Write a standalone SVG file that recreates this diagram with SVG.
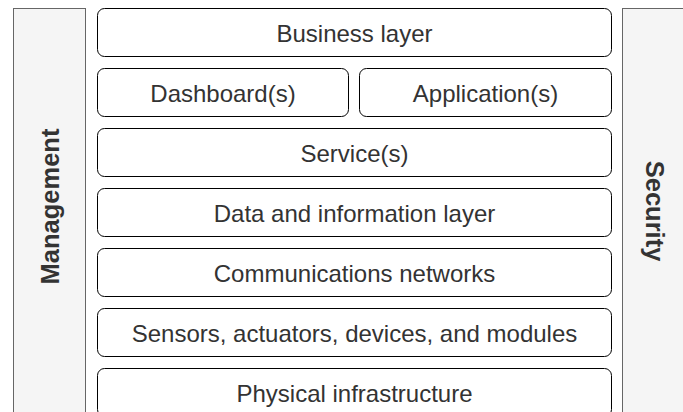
<svg xmlns="http://www.w3.org/2000/svg" width="683" height="412" viewBox="0 0 683 412">
<style>
.panel{fill:#f5f5f5;stroke:#666666;stroke-width:1}
.box{fill:#ffffff;stroke:#000000;stroke-width:1}
.t{font-family:"Liberation Sans",Arial,sans-serif;font-size:24px;fill:#333333;text-anchor:middle;dominant-baseline:central}
.v{font-family:"Liberation Sans",Arial,sans-serif;font-size:25.5px;font-weight:bold;fill:#333333;text-anchor:middle;dominant-baseline:central}
</style>
<rect width="683" height="412" fill="#ffffff"/>
<g id="management">
<rect class="panel" x="13.5" y="8.5" width="72" height="420"/>
<text class="v" transform="translate(49.5,206.5) rotate(-90)">Management</text>
</g>
<g id="security">
<rect class="panel" x="622.5" y="8.5" width="72" height="420"/>
<text class="v" transform="translate(655,211) rotate(90)">Security</text>
</g>
<g id="business">
<rect class="box" x="97.5" y="8.5" width="514" height="48" rx="7"/>
<text class="t" x="354.5" y="33">Business layer</text>
</g>
<g id="dashboards">
<rect class="box" x="97.5" y="68.5" width="251" height="48" rx="7"/>
<text class="t" x="223" y="93">Dashboard(s)</text>
</g>
<g id="applications">
<rect class="box" x="359.5" y="68.5" width="252" height="48" rx="7"/>
<text class="t" x="485.5" y="93">Application(s)</text>
</g>
<g id="services">
<rect class="box" x="97.5" y="128.5" width="514" height="48" rx="7"/>
<text class="t" x="354.5" y="153">Service(s)</text>
</g>
<g id="data">
<rect class="box" x="97.5" y="188.5" width="514" height="48" rx="7"/>
<text class="t" x="354.5" y="213">Data and information layer</text>
</g>
<g id="comms">
<rect class="box" x="97.5" y="248.5" width="514" height="48" rx="7"/>
<text class="t" x="354.5" y="273">Communications networks</text>
</g>
<g id="sensors">
<rect class="box" x="97.5" y="308.5" width="514" height="48" rx="7"/>
<text class="t" x="354.5" y="333">Sensors, actuators, devices, and modules</text>
</g>
<g id="physical">
<rect class="box" x="97.5" y="368.5" width="514" height="48" rx="7"/>
<text class="t" x="354.5" y="393">Physical infrastructure</text>
</g>
<g id="connectors"></g>
</svg>
